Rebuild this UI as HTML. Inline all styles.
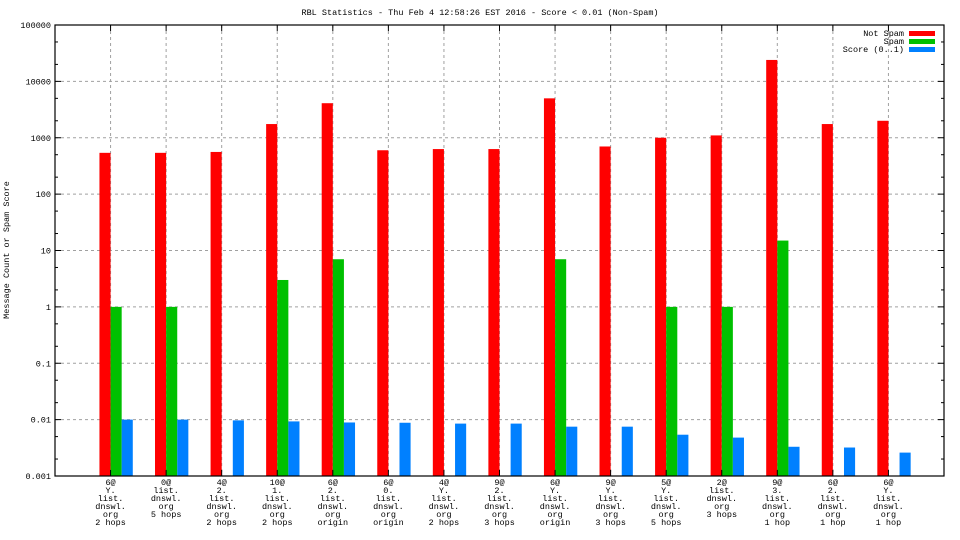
<!DOCTYPE html>
<html><head><meta charset="utf-8"><style>
html,body{margin:0;padding:0;background:#fff;}
svg{display:block;font-family:"Liberation Mono",monospace;}
</style></head><body>
<svg id="chart" width="960" height="540" viewBox="0 0 960 540" xmlns="http://www.w3.org/2000/svg">
<text x="480" y="15" text-anchor="middle" font-size="8.5">RBL Statistics - Thu Feb  4 12:58:26 EST 2016 - Score &lt; 0.01 (Non-Spam)</text>
<text transform="translate(9,250) rotate(-90)" text-anchor="middle" font-size="8.5">Message Count or Spam Score</text>
<g id="grid"></g><g id="bars"></g><g id="axes"></g>
<g>
<text x="904" y="36" text-anchor="end" font-size="8.5">Not Spam</text>
<rect x="909" y="31" width="26" height="5" fill="#ff0000"/>
<text x="904" y="44" text-anchor="end" font-size="8.5">Spam</text>
<rect x="909" y="39" width="26" height="5" fill="#00c000"/>
<text x="904" y="52" text-anchor="end" font-size="8.5">Score (0..1)</text>
<rect x="909" y="47" width="26" height="5" fill="#0080ff"/>
</g>
</svg>
<script>
const categories=[["6@","Y.","list.","dnswl.","org","2 hops"],["0@","list.","dnswl.","org","5 hops"],["4@","2.","list.","dnswl.","org","2 hops"],["10@","1.","list.","dnswl.","org","2 hops"],["6@","2.","list.","dnswl.","org","origin"],["6@","0.","list.","dnswl.","org","origin"],["4@","Y.","list.","dnswl.","org","2 hops"],["9@","2.","list.","dnswl.","org","3 hops"],["6@","Y.","list.","dnswl.","org","origin"],["9@","Y.","list.","dnswl.","org","3 hops"],["5@","Y.","list.","dnswl.","org","5 hops"],["2@","list.","dnswl.","org","3 hops"],["9@","3.","list.","dnswl.","org","1 hop"],["6@","2.","list.","dnswl.","org","1 hop"],["6@","Y.","list.","dnswl.","org","1 hop"]];
const notSpam=[540,540,560,1750,4100,600,630,630,5000,700,1000,1100,24000,1750,2000];
const spam=[1,1,0,3,7,0,0,0,7,0,1,1,15,0,0];
const score=[0.0100,0.0100,0.0097,0.0093,0.0089,0.0088,0.0085,0.0085,0.0075,0.0075,0.0054,0.0048,0.0033,0.0032,0.0026];
const yTickLabels=["0.001","0.01","0.1","1","10","100","1000","10000","100000"];
const yTickValues=[0.001,0.01,0.1,1,10,100,1000,10000,100000];
const NS="http://www.w3.org/2000/svg";
const L=55,R=944,T=25,B=476;
const xs=i=>L+(i+1)*(R-L)/16;
const unit=(R-L)/16;
const ys=v=>B-(Math.log10(v)+3)*(B-T)/8;
function mk(tag,attrs,parent){const e=document.createElementNS(NS,tag);for(const k in attrs)e.setAttribute(k,attrs[k]);parent.appendChild(e);return e;}
const grid=document.getElementById('grid'),bars=document.getElementById('bars'),axes=document.getElementById('axes');
yTickValues.forEach((v,i)=>{
 const y=ys(v);
 if(i>0&&i<yTickValues.length-1){const g=mk('line',{x1:L,x2:R,y1:y,y2:y,stroke:'#a0a0a0','stroke-dasharray':'3,3','stroke-width':1},grid);
 
 }
 const t=mk('text',{x:L-4,y:y+3,'text-anchor':'end','font-size':8.5},axes);t.textContent=yTickLabels[i];
 
 
 mk('line',{x1:L,x2:L+6,y1:y,y2:y,stroke:'#000'},axes);mk('line',{x1:R,x2:R-6,y1:y,y2:y,stroke:'#000'},axes);
 if(i<yTickValues.length-1)[2,5].forEach(m=>{const ym=ys(v*m);mk('line',{x1:L,x2:L+3,y1:ym,y2:ym,stroke:'#000'},axes);mk('line',{x1:R,x2:R-3,y1:ym,y2:ym,stroke:'#000'},axes);});
});
categories.forEach((lines,i)=>{
 const x=xs(i);
 const g=mk('line',{x1:x,x2:x,y1:T,y2:B,stroke:'#a0a0a0','stroke-dasharray':'3,3'},grid);
 
 
 mk('line',{x1:x,x2:x,y1:B,y2:B-6,stroke:'#000'},axes);mk('line',{x1:x,x2:x,y1:T,y2:T+6,stroke:'#000'},axes);
 const t=mk('text',{x:x,y:485,'text-anchor':'middle','font-size':8.5},axes);
 
 
 lines.forEach((s,k)=>{const ts=mk('tspan',{x:x,y:485+k*8},t);ts.textContent=s;});
 const series=[[notSpam[i],'#ff0000','bar-not-spam'],[spam[i],'#00c000','bar-spam'],[score[i],'#0080ff','bar-score']];
 series.forEach((s,k)=>{
  if(!(s[0]>0))return;
  const x0=x-0.2*unit+k*0.2*unit,y0=Math.max(T,ys(s[0]));
  const r=mk('rect',{x:x0,y:y0,width:0.2*unit,height:B-y0,fill:s[1]},bars);
  
  
 });
});
const f=mk('rect',{x:L,y:T,width:R-L,height:B-T,fill:'none',stroke:'#000','stroke-width':1.2},axes);


</script>
</body></html>
